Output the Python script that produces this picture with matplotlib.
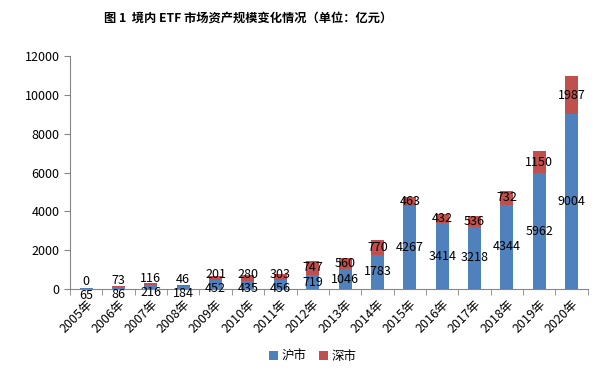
import numpy as np
import matplotlib.pyplot as plt

plt.rcParams['font.family'] = ['Noto Sans CJK SC', 'DejaVu Sans']

years = ["2005年", "2006年", "2007年", "2008年", "2009年", "2010年", "2011年", "2012年",
         "2013年", "2014年", "2015年", "2016年", "2017年", "2018年", "2019年", "2020年"]
sh = [65, 86, 216, 184, 452, 435, 456, 719, 1046, 1783, 4267, 3414, 3218, 4344, 5962, 9004]
sz = [0, 73, 116, 46, 201, 280, 303, 747, 560, 770, 463, 432, 536, 732, 1150, 1987]

blue = "#4F81BD"
red = "#C0504D"

fig = plt.figure(figsize=(6.13, 3.77), dpi=100)
ax = fig.add_axes([0.114, 0.233, 0.845, 0.618])

x = np.arange(len(years))
ax.bar(x, sh, width=0.4, color=blue, label="沪市")
ax.bar(x, sz, width=0.4, bottom=sh, color=red, label="深市")

# data labels, centred in each segment, pushed apart when too close
gap = 720
for i in x:
    yb = sh[i] / 2
    yr = sh[i] + sz[i] / 2
    if yr - yb < gap:
        mid = (yb + yr) / 2
        yb, yr = mid - gap / 2, mid + gap / 2
    ax.text(i, yb, str(sh[i]), ha="center", va="center", fontsize=9)
    ax.text(i, yr, str(sz[i]), ha="center", va="center", fontsize=9)

ax.set_xlim(-0.5, len(years) - 0.5)
ax.set_ylim(0, 12000)
ax.set_yticks(range(0, 12001, 2000))
ax.set_xticks(x)
ax.set_xticklabels(years, rotation=45, ha="right", rotation_mode="anchor", fontsize=9)
ax.tick_params(axis="y", labelsize=9, length=4, color="#868686")
ax.tick_params(axis="x", length=0, pad=6)
ax.set_xticks(np.arange(-0.5, len(years)), minor=True)
ax.tick_params(axis="x", which="minor", length=4, color="#868686")

for s in ["top", "right"]:
    ax.spines[s].set_visible(False)
for s in ["left", "bottom"]:
    ax.spines[s].set_color("#868686")

fig.text(0.405, 0.952, "图 1  境内 ETF 市场资产规模变化情况（单位：亿元）",
         ha="center", va="center", fontsize=8.8, fontweight="bold")

fig.legend(loc="center", bbox_to_anchor=(0.51, 0.055), ncol=2, frameon=False,
           fontsize=9, handlelength=0.7, handleheight=0.7, handletextpad=0.3,
           columnspacing=1.0)

fig.savefig("out.png", dpi=100)
